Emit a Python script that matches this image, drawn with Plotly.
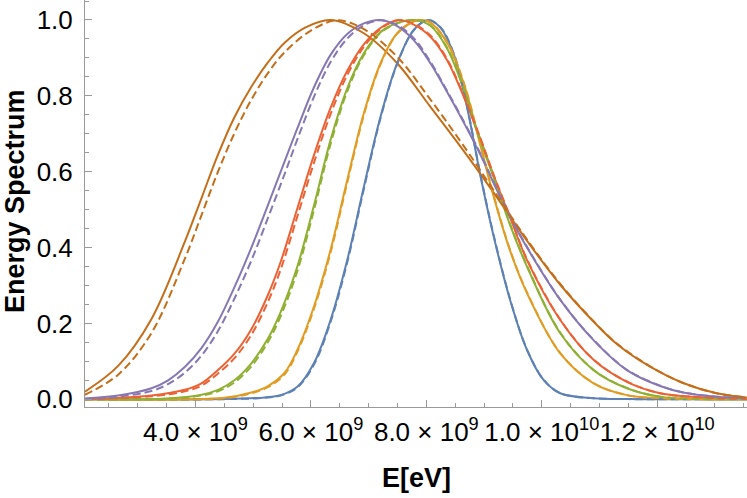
import numpy as np
import plotly.graph_objects as go

# ---------------- data (energies in units of 1e9 eV) ----------------
E_UNIT = 1e9

blue_x = [2.085, 4.5, 5.2, 5.476, 5.765, 6.052, 6.341, 6.63, 6.917, 7.206, 7.495, 7.782, 8.03,
          8.244, 8.474, 8.705, 8.936, 9.166, 9.455, 9.744, 10.03, 10.32, 10.896, 11.5, 13.55]
blue_y = [0.0, 0.0005, 0.005, 0.011, 0.033, 0.095, 0.209, 0.367, 0.56, 0.745, 0.886, 0.974, 1.0,
          0.98, 0.91, 0.77, 0.59, 0.43, 0.26, 0.13, 0.051, 0.016, 0.003, 0.0005, 0.0]
blue_dash_y = [0.0, 0.0004, 0.004, 0.010, 0.031, 0.091, 0.204, 0.361, 0.554, 0.741, 0.884, 0.973, 1.0,
               0.981, 0.912, 0.773, 0.593, 0.433, 0.262, 0.131, 0.052, 0.016, 0.003, 0.0005, 0.0]

orange_x = [2.085, 4.5, 4.969, 5.256, 5.545, 5.765, 6.052, 6.341, 6.63, 6.917, 7.206, 7.495, 7.782,
            7.93, 8.071, 8.36, 8.647, 8.936, 9.166, 9.455, 9.744, 10.32, 10.896, 11.474, 12.05, 13.55]
orange_y = [0.0, 0.004, 0.018, 0.035, 0.07, 0.13, 0.244, 0.394, 0.578, 0.754, 0.886, 0.965, 0.996,
            1.0, 0.993, 0.94, 0.833, 0.67, 0.535, 0.39, 0.28, 0.121, 0.042, 0.011, 0.003, 0.0]
orange_dash_y = [0.0, 0.003, 0.016, 0.032, 0.066, 0.125, 0.238, 0.387, 0.571, 0.749, 0.883, 0.964, 0.996,
                 1.0, 0.994, 0.942, 0.836, 0.673, 0.538, 0.392, 0.282, 0.122, 0.043, 0.011, 0.003, 0.0]

green_x = [2.085, 3.5, 4.104, 4.391, 4.68, 4.969, 5.256, 5.476, 5.765, 6.052, 6.341, 6.63, 6.917,
           7.206, 7.495, 7.8, 8.071, 8.36, 8.647, 8.88, 9.166, 9.455, 9.744, 10.32, 10.896, 11.474,
           12.05, 13.55]
green_y = [0.0, 0.002, 0.012, 0.025, 0.051, 0.095, 0.16, 0.23, 0.35, 0.51, 0.684, 0.82, 0.912,
           0.968, 0.992, 1.0, 0.985, 0.925, 0.818, 0.705, 0.585, 0.458, 0.35, 0.174, 0.077, 0.029,
           0.007, 0.0]
green_dash_y = [0.0, 0.0015, 0.010, 0.021, 0.045, 0.087, 0.151, 0.219, 0.338, 0.498, 0.673, 0.812, 0.907,
                0.966, 0.991, 1.0, 0.986, 0.927, 0.821, 0.708, 0.588, 0.461, 0.352, 0.176, 0.078, 0.03,
                0.007, 0.0]

red_x = [2.085, 3.239, 3.815, 4.104, 4.391, 4.68, 4.969, 5.256, 5.476, 5.765, 6.052, 6.341, 6.63,
         6.917, 7.206, 7.52, 7.782, 8.071, 8.36, 8.647, 8.936, 9.166, 9.455, 9.744, 10.32, 10.896,
         11.474, 12.05, 13.03, 13.55]
red_y = [0.0, 0.01, 0.025, 0.042, 0.077, 0.121, 0.185, 0.275, 0.362, 0.503, 0.643, 0.768, 0.866,
         0.936, 0.979, 1.0, 0.988, 0.956, 0.894, 0.798, 0.686, 0.59, 0.478, 0.367, 0.209, 0.104,
         0.046, 0.016, 0.003, 0.001]
red_dash_y = [0.0, 0.008, 0.021, 0.036, 0.068, 0.109, 0.17, 0.257, 0.342, 0.482, 0.623, 0.752, 0.855,
              0.929, 0.976, 1.0, 0.99, 0.959, 0.897, 0.801, 0.689, 0.592, 0.48, 0.369, 0.21, 0.105,
              0.047, 0.016, 0.003, 0.001]

purple_x = [2.085, 2.661, 3.239, 3.526, 3.815, 4.104, 4.391, 4.68, 4.969, 5.256, 5.545, 5.765,
            6.052, 6.341, 6.63, 6.917, 7.206, 7.495, 7.782, 8.071, 8.36, 8.647, 8.936, 9.166, 9.455,
            9.744, 10.32, 10.896, 11.474, 12.05, 12.448, 13.03, 13.55]
purple_y = [0.002, 0.01, 0.029, 0.05, 0.085, 0.135, 0.205, 0.297, 0.4, 0.512, 0.627, 0.714,
            0.822, 0.908, 0.963, 0.991, 1.0, 0.984, 0.947, 0.886, 0.81, 0.73, 0.645, 0.57, 0.48,
            0.40, 0.262, 0.156, 0.077, 0.035, 0.018, 0.007, 0.003]
purple_dash_y = [0.001, 0.007, 0.022, 0.04, 0.07, 0.115, 0.18, 0.267, 0.366, 0.478, 0.594, 0.685,
                 0.797, 0.889, 0.951, 0.986, 0.999, 0.987, 0.952, 0.89, 0.813, 0.733, 0.648, 0.572, 0.482,
                 0.402, 0.263, 0.157, 0.078, 0.036, 0.018, 0.007, 0.003]

brown_x = [2.085, 2.661, 3.239, 3.815, 4.104, 4.391, 4.68, 4.969, 5.256, 5.545, 5.9, 6.341, 6.917,
           7.495, 8.071, 8.647, 9.166, 9.744, 10.32, 10.896, 11.3, 11.877, 12.448, 13.03, 13.55]
brown_y = [0.02, 0.088, 0.212, 0.415, 0.53, 0.645, 0.745, 0.824, 0.888, 0.94, 0.98, 1.0, 0.965,
           0.886, 0.771, 0.655, 0.545, 0.418, 0.302, 0.205, 0.146, 0.086, 0.043, 0.016, 0.005]
brown_dash_x = [2.085, 2.661, 3.239, 3.815, 4.104, 4.391, 4.68, 4.969, 5.256, 5.545, 6.0, 6.45,
                6.917, 7.495, 8.071, 8.647, 9.166, 9.744, 10.32, 10.896, 11.3, 11.877, 12.448, 13.03,
                13.55]
brown_dash_y = [0.012, 0.065, 0.175, 0.37, 0.485, 0.6, 0.703, 0.79, 0.86, 0.915, 0.972, 0.999,
                0.976, 0.903, 0.79, 0.668, 0.551, 0.421, 0.304, 0.206, 0.147, 0.087, 0.043, 0.016,
                0.005]

x_tick_vals = [4.0, 6.0, 8.0, 10.0, 12.0]
x_tick_text = ["4.0 × 10<sup>9</sup>", "6.0 × 10<sup>9</sup>", "8.0 × 10<sup>9</sup>",
               "1.0 × 10<sup>10</sup>", "1.2 × 10<sup>10</sup>"]
y_tick_vals = [0.0, 0.2, 0.4, 0.6, 0.8, 1.0]
y_tick_text = ["0.0", "0.2", "0.4", "0.6", "0.8", "1.0"]

# ---------------- styling ----------------
COL = {
    "blue": "#5E81B5", "orange": "#E19C24", "green": "#8FB032",
    "red": "#EB6235", "purple": "#8778B3", "brown": "#C56E1A",
}
AXIS_COL = "#9a9a9a"
FONT = "Liberation Sans, Arial, sans-serif"
TICK_SIZE = 26
TITLE_SIZE = 27

solid = [
    ("blue", blue_x, blue_y), ("orange", orange_x, orange_y), ("green", green_x, green_y),
    ("red", red_x, red_y), ("purple", purple_x, purple_y), ("brown", brown_x, brown_y),
]
dashed = [
    ("blue", blue_x, blue_dash_y), ("orange", orange_x, orange_dash_y),
    ("green", green_x, green_dash_y), ("red", red_x, red_dash_y),
    ("purple", purple_x, purple_dash_y), ("brown", brown_dash_x, brown_dash_y),
]

fig = go.Figure()
for name, xs, ys in solid:
    fig.add_trace(go.Scatter(
        x=np.array(xs) * E_UNIT, y=ys, mode="lines", name=name,
        line=dict(color=COL[name], width=2, shape="spline", smoothing=1.0),
        showlegend=False, hoverinfo="skip"))
for name, xs, ys in dashed:
    fig.add_trace(go.Scatter(
        x=np.array(xs) * E_UNIT, y=ys, mode="lines", name=name + " (dashed)",
        line=dict(color=COL[name], width=2, dash="8px,4px", shape="spline", smoothing=1.0),
        showlegend=False, hoverinfo="skip"))

fig.update_layout(
    width=747, height=498,
    margin=dict(l=85, r=0, t=0, b=91, autoexpand=False),
    paper_bgcolor="white", plot_bgcolor="white",
    font=dict(family=FONT, size=TICK_SIZE, color="black"),
    xaxis=dict(
        range=[2.087e9, 1.3555e10], automargin=False,
        tickmode="array", tickvals=[v * E_UNIT for v in x_tick_vals], ticktext=x_tick_text,
        tickangle=0,
        ticks="inside", ticklen=7, tickwidth=1, tickcolor=AXIS_COL,
        minor=dict(ticks="inside", ticklen=4, tickwidth=1, tickcolor=AXIS_COL,
                   tickmode="linear", tick0=0, dtick=0.5e9),
        showline=True, linecolor=AXIS_COL, linewidth=1,
        showgrid=False, zeroline=False,
        tickfont=dict(family=FONT, size=TICK_SIZE, color="black"),
        ticklabelstandoff=2,
    ),
    yaxis=dict(
        range=[-0.0203, 1.0527], automargin=False,
        tickmode="array", tickvals=y_tick_vals, ticktext=y_tick_text,
        tickangle=0,
        ticks="inside", ticklen=7, tickwidth=1, tickcolor=AXIS_COL,
        minor=dict(ticks="inside", ticklen=4, tickwidth=1, tickcolor=AXIS_COL,
                   tickmode="linear", tick0=0, dtick=0.05),
        showline=True, linecolor=AXIS_COL, linewidth=1,
        showgrid=False, zeroline=False,
        tickfont=dict(family=FONT, size=TICK_SIZE, color="black"),
        ticklabelstandoff=6,
    ),
    annotations=[
        dict(text="Energy Spectrum", textangle=-90, xref="paper", yref="paper",
             x=(15 - 85) / 662, y=(407 - 201) / 407, xanchor="center", yanchor="middle",
             showarrow=False, font=dict(family=FONT, size=TITLE_SIZE, color="black", weight="bold")),
        dict(text="E[eV]", xref="paper", yref="paper",
             x=0.5, y=(407 - 478) / 407, xanchor="center", yanchor="middle",
             showarrow=False, font=dict(family=FONT, size=TITLE_SIZE, color="black", weight="bold")),
    ],
)

fig.write_html("out.html", config={"displayModeBar": False},
               post_script="document.body.style.margin='0';document.body.style.padding='0';")
